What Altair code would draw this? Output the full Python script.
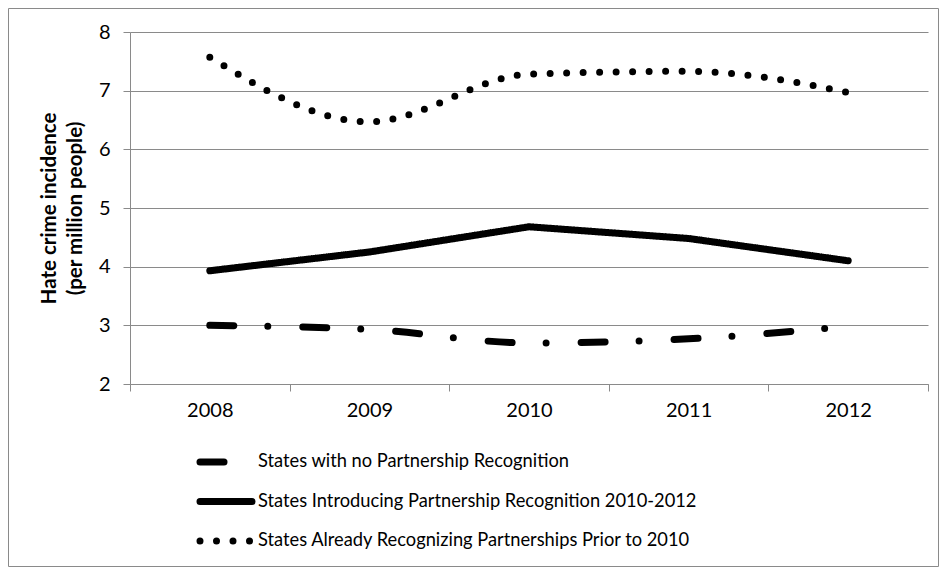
import altair as alt
import pandas as pd

years = ["2008", "2009", "2010", "2011", "2012"]
no_recog = [3.00, 2.93, 2.70, 2.77, 2.98]
introducing = [3.93, 4.25, 4.68, 4.48, 4.10]
already = [7.57, 6.47, 7.28, 7.33, 6.97]
series_names = [
    "States with no Partnership Recognition",
    "States Introducing Partnership Recognition 2010-2012",
    "States Already Recognizing Partnerships Prior to 2010",
]
y_ticks = [2, 3, 4, 5, 6, 7, 8]
y_title = ["Hate crime incidence", "(per million people)"]

rows = []
for name, vals in zip(series_names, [no_recog, introducing, already]):
    for yr, v in zip(years, vals):
        rows.append({"year": yr, "value": v, "series": name})
df = pd.DataFrame(rows)

leg_rows = []
for name in series_names:
    for p in [0, 1]:
        leg_rows.append({"series": name, "pos": p})
leg_df = pd.DataFrame(leg_rows)

W, H = 798, 352
FONT = "Lato"
GRAY = "#8a8a8a"
DASHES = [[24, 34, 0, 35], [1, 0], [0, 16.5]]
INTERP = ["monotone", "linear", "monotone"]

x = alt.X(
    "year:O",
    scale=alt.Scale(type="band", domain=years, paddingInner=0, paddingOuter=0),
    bandPosition=0.5,
    axis=alt.Axis(
        title=None, tickBand="extent", labelAngle=0, grid=False,
        domainColor=GRAY, tickColor=GRAY, tickSize=7, labelPadding=9,
        labelFont=FONT, labelFontSize=20, labelColor="black",
    ),
)
y = alt.Y(
    "value:Q",
    scale=alt.Scale(domain=[2, 8], nice=False, zero=False),
    axis=alt.Axis(
        values=y_ticks, title=y_title, titleFont=FONT, titleFontSize=20.5,
        titleFontWeight="bold", titleColor="black", titleLineHeight=26,
        titleX=-71, titleY=H / 2, titleAngle=-90, titleAlign="center", titleBaseline="bottom",
        labelFont=FONT, labelFontSize=20, labelColor="black", labelPadding=13,
        grid=True, gridColor=GRAY, domainColor=GRAY, tickColor=GRAY, tickSize=7,
    ),
)

lines = []
for name, d, itp in zip(series_names, DASHES, INTERP):
    lines.append(
        alt.Chart(df).transform_filter(alt.datum.series == name).mark_line(
            interpolate=itp, color="black", strokeWidth=7, strokeCap="round",
            strokeJoin="round", strokeDash=d,
        ).encode(x=x, y=y)
    )
main = alt.layer(*lines)

lx = alt.X("pos:Q", scale=alt.Scale(domain=[0, 1], range=[70, 122]), axis=None)
ly = alt.Y("series:N", scale=alt.Scale(domain=series_names, range=[430, 509], padding=0), axis=None)
leg_layers = []
for name, d in zip(series_names, DASHES):
    leg_layers.append(
        alt.Chart(leg_df).transform_filter(alt.datum.series == name).mark_line(
            color="black", strokeWidth=7, strokeCap="round", strokeDash=d,
        ).encode(x=lx, y=ly)
    )
leg_text = alt.Chart(leg_df).transform_filter(alt.datum.pos == 1).mark_text(
    align="left", baseline="middle", dx=6, font=FONT, fontSize=18.3, color="black",
).encode(x=lx, y=ly, text="series:N")
legend = alt.layer(*leg_layers, leg_text)

frame = alt.Chart(pd.DataFrame({"a": [0]})).mark_rect(
    fill="white", fillOpacity=0, stroke=GRAY, strokeWidth=1, clip=False
).encode(x=alt.value(-121.5), x2=alt.value(808.5), y=alt.value(-23.5), y2=alt.value(534.5))

chart = alt.layer(main, legend, frame).resolve_scale(x="independent", y="independent").properties(
    width=W, height=H,
    autosize=alt.AutoSizeParams(type="none"),
    padding={"left": 122, "top": 24, "right": 11, "bottom": 183},
    background="white",
).configure_view(strokeWidth=0)

chart.save("out.html", embed_options={"renderer": "svg", "actions": False})
